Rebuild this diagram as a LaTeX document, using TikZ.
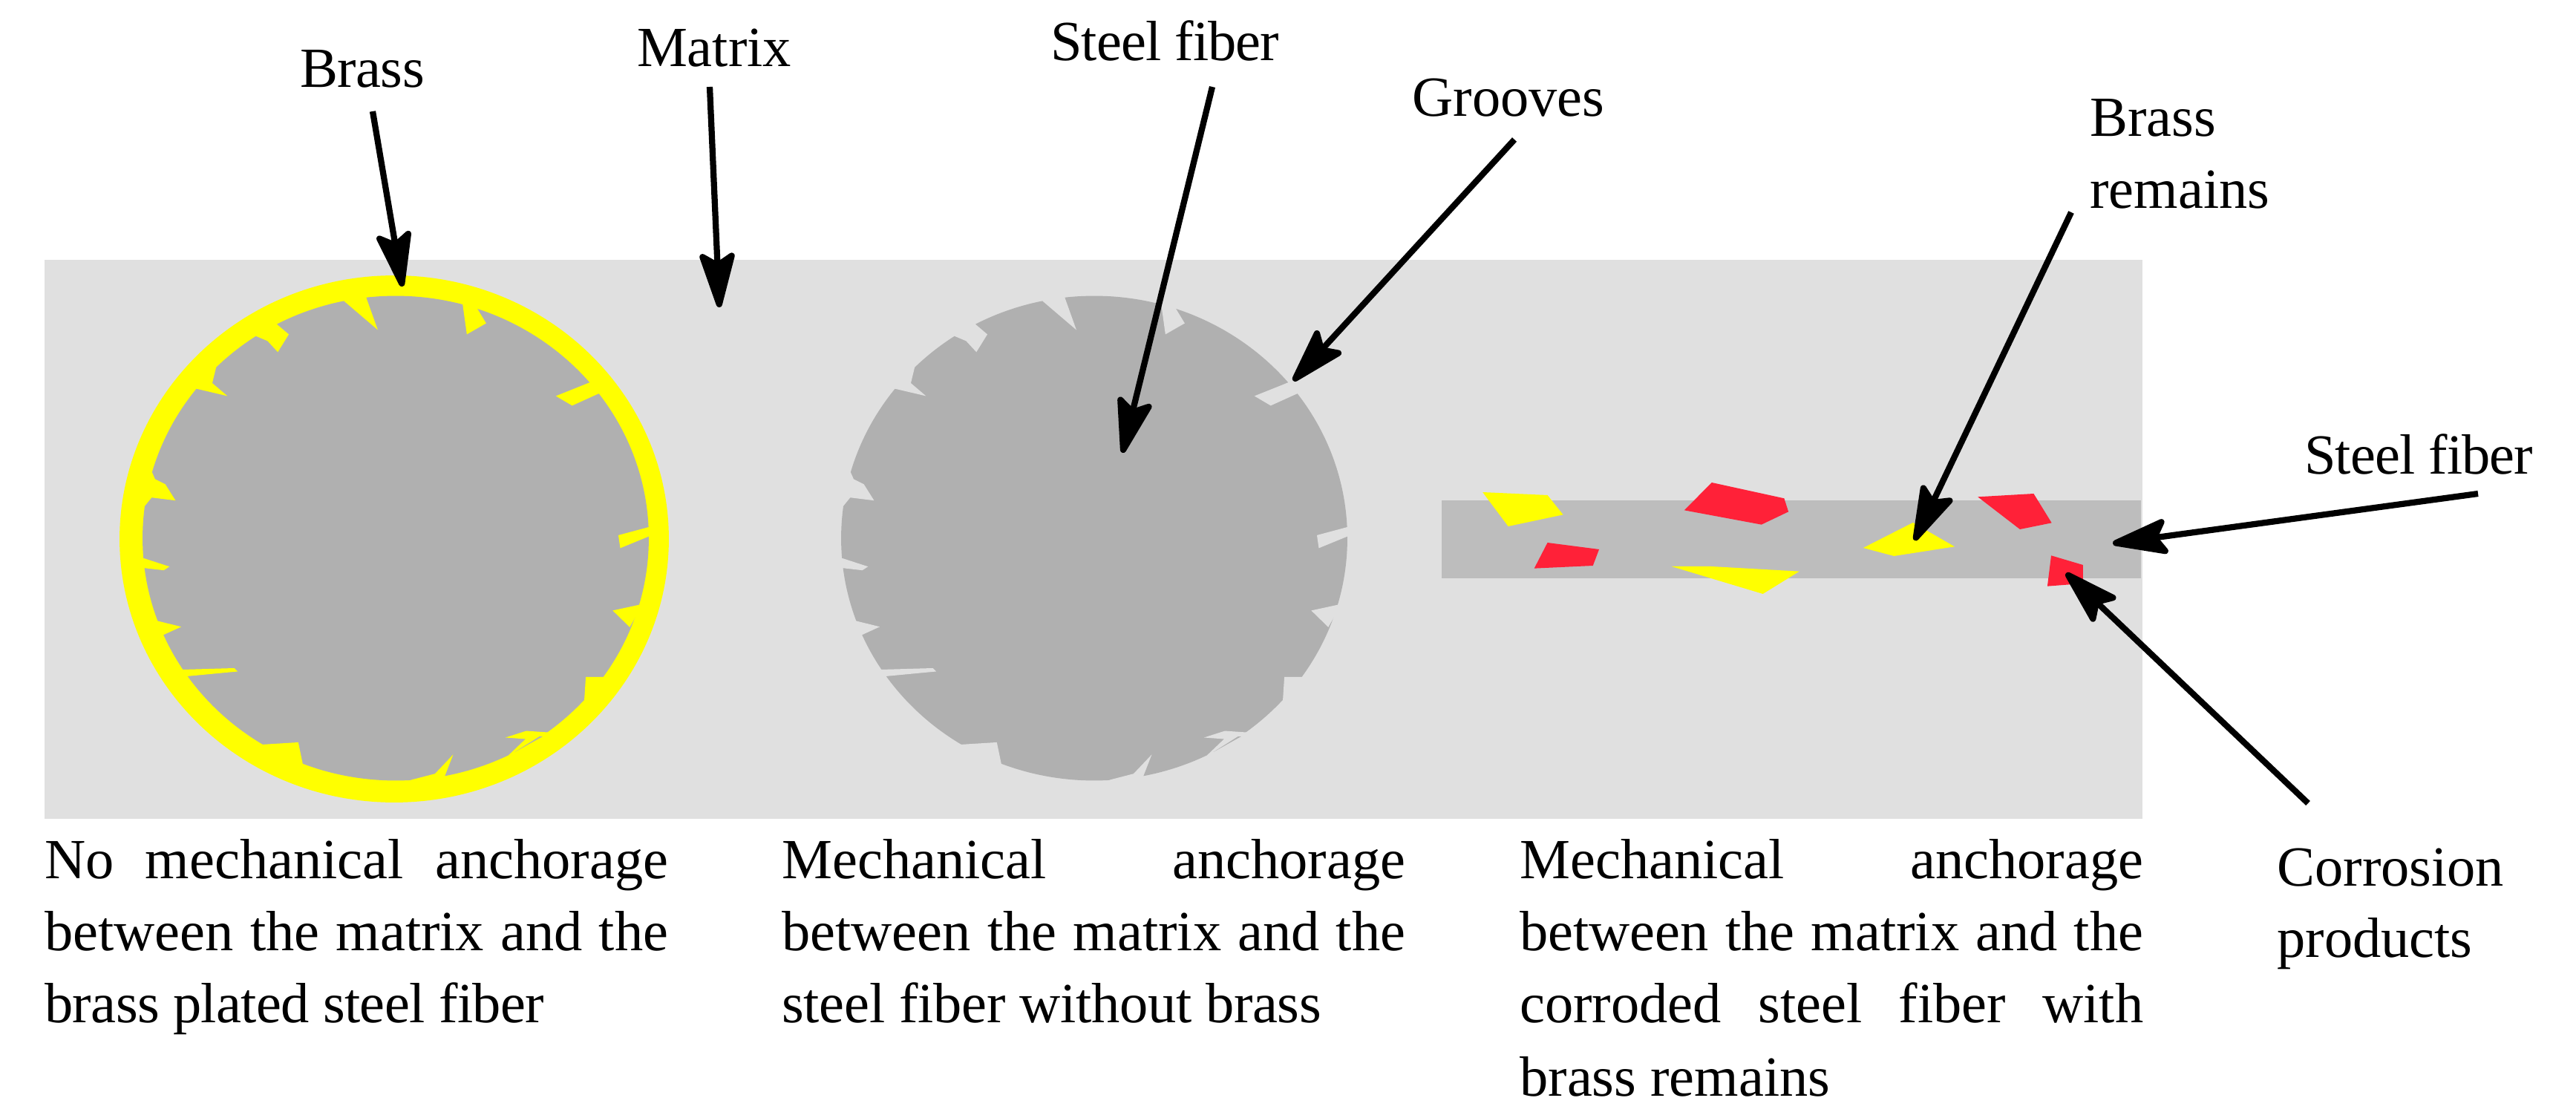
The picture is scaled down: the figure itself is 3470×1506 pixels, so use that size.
\documentclass[tikz,border=0pt]{standalone}
\usepackage{fontspec}
\setmainfont{Liberation Serif}
\usetikzlibrary{arrows.meta}
\definecolor{matrixgray}{HTML}{E0E0E0}
\definecolor{steelgray}{HTML}{B0B0B0}
\definecolor{bargray}{HTML}{BDBDBD}
\definecolor{brassyellow}{HTML}{FFFF00}
\definecolor{rustred}{HTML}{FF2138}
\newcommand{\fiberteeth}[1]{%
 \fill[#1] (634,132)--(723,210)--(693,124)--(690,100)--(630,108)--cycle;
 \fill[#1] (947,141)--(958,222)--(1009,192)--(986,153)--(995,130)--(955,112)--cycle;
 \fill[#1] (1283,352)--(1193,389)--(1236,415)--(1307,382)--(1330,365)--(1300,330)--cycle;
 \fill[#1] (1438,744)--(1358,766)--(1363,801)--(1439,769)--(1470,770)--(1470,744)--cycle;
 \fill[#1] (1415,954)--(1343,970)--(1388,1015)--(1403,988)--(1430,1000)--(1445,960)--cycle;
 \fill[#1] (1320,1150)--(1272,1150)--(1268,1213)--(1290,1235)--(1345,1165)--cycle;
 \fill[#1] (1172,1300)--(1115,1296)--(1060,1314)--(1113,1318)--(1068,1362)--(1085,1385)--(1190,1320)--cycle;
 \fill[#1] (900,1418)--(922,1360)--(874,1412)--(810,1429)--(810,1455)--(905,1445)--cycle;
 \fill[#1] (525,1386)--(513,1327)--(418,1333)--(405,1355)--(515,1410)--cycle;
 \fill[#1] (220,1148)--(353,1135)--(344,1126)--(208,1130)--(190,1140)--(205,1165)--cycle;
 \fill[#1] (157,1036)--(204,1014)--(141,998)--(120,1005)--(135,1045)--cycle;
 \fill[#1] (107,855)--(158,861)--(173,851)--(104,828)--(75,830)--(80,858)--cycle;
 \fill[#1] (107,688)--(126,664)--(189,672)--(162,628)--(135,614)--(126,593)--(95,590)--(75,690)--cycle;
 \fill[#1] (243,369)--(326,389)--(286,354)--(296,312)--(275,290)--(220,355)--cycle;
 \fill[#1] (402,227)--(432,240)--(459,270)--(488,222)--(457,195)--(445,170)--(390,205)--cycle;
 \fill[steelgray] (1085,1353)--(1158,1311)--(1150,1311)--cycle;
}
\newcommand{\bodyfont}{\fontsize{43.5}{55}\selectfont}
\newcommand{\tighter}{\addfontfeature{LetterSpace=-1.2}}
\tikzset{
 lbl/.style={inner sep=0pt,anchor=base west,font=\bodyfont},
 ctr/.style={inner sep=0pt,anchor=base,font=\bodyfont},
 pointer/.style={line width=0.165cm,black,-{Stealth[length=1.75cm,width=1.05cm,inset=0.32cm,round]}},
}
\begin{document}
\begin{tikzpicture}[x=0.02cm,y=-0.02cm]
\useasboundingbox (0,0) rectangle (3470,1506);
\fill[white] (0,0) rectangle (3470,1506);
\fill[matrixgray] (60,350) rectangle (2886,1103);
% fibre with brass coat
\fill[brassyellow] (531,726) ellipse [x radius=7.4cm,y radius=7.1cm];
\fill[steelgray] (533,725) ellipse [x radius=6.82cm,y radius=6.53cm];
\begin{scope}[shift={(140,340)},x=0.010204cm,y=-0.00995cm]
 \fiberteeth{brassyellow}
\end{scope}
% bare fibre
\fill[steelgray] (1474,725) ellipse [x radius=6.82cm,y radius=6.53cm];
\begin{scope}[shift={(1081,340)},x=0.010204cm,y=-0.00995cm]
 \fiberteeth{matrixgray}
\end{scope}
% longitudinal fibre
\fill[bargray] (1942,674) rectangle (2884,779);
\begin{scope}[shift={(1920,620)},x=0.012755cm,y=-0.006667cm]
 \fill[brassyellow] (121,129)--(258,141)--(291,220)--(175,267)--cycle;
 \fill[rustred] (605,90)--(758,154)--(767,208)--(710,260)--(547,202)--cycle;
 \fill[rustred] (258,333)--(367,360)--(354,426)--(230,437)--cycle;
 \fill[brassyellow] (520,429)--(604,429)--(790,449)--(713,540)--cycle;
 \fill[brassyellow] (1030,252)--(1118,349)--(990,387)--(925,354)--cycle;
 \fill[rustred] (1167,148)--(1285,135)--(1323,253)--(1256,279)--cycle;
 \fill[rustred] (1322,385)--(1389,423)--(1389,498)--(1314,509)--cycle;
\end{scope}
% labels
\node[ctr] (brass) at (488,118) {\addfontfeature{LetterSpace=-0.7}Brass};
\node[ctr] (matrix) at (962,90) {Matrix};
\node[ctr] (steel1) at (1569,82) {\tighter Steel fiber};
\node[ctr] (grooves) at (2032,157) {Grooves};
\node[lbl] (remains1) at (2815,184) {Brass};
\node[lbl] (remains2) at (2815,281) {remains};
\node[ctr] (steel2) at (3258,638) {\tighter Steel fiber};
\node[lbl] (corr1) at (3067,1193) {Corrosion};
\node[lbl] (corr2) at (3067,1289) {products};
% captions
\node[lbl] (a1) at (60,1183) {\makebox[16.8cm][s]{No\hfill mechanical\hfill anchorage}};
\node[lbl] (a2) at (60,1280) {\makebox[16.8cm][s]{between\hfill the\hfill matrix\hfill and\hfill the}};
\node[lbl] (a3) at (60,1377) {\addfontfeature{LetterSpace=-0.85}brass plated steel fiber};
\node[lbl] (b1) at (1053,1183) {\makebox[16.8cm][s]{Mechanical\hfill anchorage}};
\node[lbl] (b2) at (1053,1280) {\makebox[16.8cm][s]{between\hfill the\hfill matrix\hfill and\hfill the}};
\node[lbl] (b3) at (1053,1377) {\addfontfeature{LetterSpace=-0.35}steel fiber without brass};
\node[lbl] (c1) at (2047,1183) {\makebox[16.8cm][s]{Mechanical\hfill anchorage}};
\node[lbl] (c2) at (2047,1280) {\makebox[16.8cm][s]{between\hfill the\hfill matrix\hfill and\hfill the}};
\node[lbl] (c3) at (2047,1377) {\makebox[16.8cm][s]{corroded\hfill steel\hfill fiber\hfill with}};
\node[lbl] (c4) at (2047,1476) {brass remains};
% arrow ends
\coordinate (p1s) at (502,150); \coordinate (p1e) at (542,386);
\coordinate (p2s) at (956,117); \coordinate (p2e) at (969,414);
\coordinate (p3s) at (1633,117); \coordinate (p3e) at (1512,610);
\coordinate (p4s) at (2040,188); \coordinate (p4e) at (1742,513);
\coordinate (p5s) at (2790,286); \coordinate (p5e) at (2579,728);
\coordinate (p6s) at (3338,665); \coordinate (p6e) at (2846,732);
\coordinate (p7s) at (3109,1082); \coordinate (p7e) at (2783,772);
\draw[pointer] (p1s) -- (p1e);
\draw[pointer] (p2s) -- (p2e);
\draw[pointer] (p3s) -- (p3e);
\draw[pointer] (p4s) -- (p4e);
\draw[pointer] (p5s) -- (p5e);
\draw[pointer] (p6s) -- (p6e);
\draw[pointer] (p7s) -- (p7e);
\end{tikzpicture}
\end{document}
